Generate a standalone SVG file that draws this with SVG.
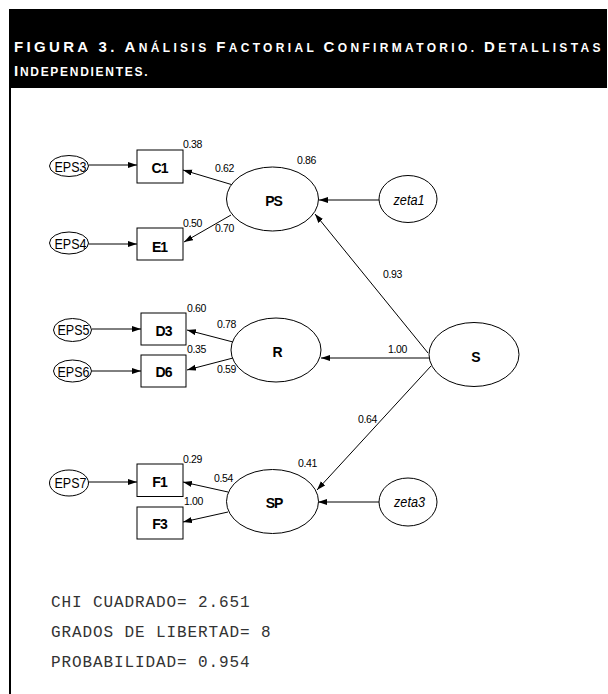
<svg xmlns="http://www.w3.org/2000/svg" width="608" height="694" viewBox="0 0 608 694">
<style>
.hd{font-family:"Liberation Sans",Arial,sans-serif;font-weight:bold;fill:#fff;letter-spacing:2.5px}
.big{font-size:15px}
.sm{font-size:12px}
.box{fill:#fff;stroke:#000;stroke-width:1}
.ell{fill:#fff;stroke:#000;stroke-width:1}
.lbl{font-family:"Liberation Sans",Arial,sans-serif;font-weight:bold;font-size:14px;letter-spacing:-1px;text-anchor:middle;fill:#000}
.eps{font-family:"Liberation Sans",Arial,sans-serif;font-size:15px;text-anchor:middle;fill:#000}
.zeta{font-family:"Liberation Sans",Arial,sans-serif;font-style:italic;font-size:14px;text-anchor:middle;fill:#000}
.num{font-family:"Liberation Sans",Arial,sans-serif;font-size:10.5px;letter-spacing:-0.4px;fill:#000}
.mono{font-family:"Liberation Mono","Courier New",monospace;font-size:16px;letter-spacing:0.9px;fill:#333}
.edge{stroke:#000;stroke-width:1;fill:none;marker-end:url(#ah)}
</style>
<defs>
<marker id="ah" markerUnits="userSpaceOnUse" markerWidth="10" markerHeight="7" refX="9" refY="3" orient="auto">
<path d="M0,0 L9,3 L0,6 z" fill="#000"/>
</marker>
</defs>
<rect x="0" y="0" width="608" height="694" fill="#fff"/>
<g id="header">
<rect x="9" y="9" width="598" height="79" fill="#000"/>
<rect x="9" y="88" width="2" height="606" fill="#000"/>
<text class="hd" x="14" y="52" textLength="589" lengthAdjust="spacing"><tspan class="big">FIGURA 3. A</tspan><tspan class="sm">NÁLISIS </tspan><tspan class="big">F</tspan><tspan class="sm">ACTORIAL </tspan><tspan class="big">C</tspan><tspan class="sm">ONFIRMATORIO. </tspan><tspan class="big">D</tspan><tspan class="sm">ETALLISTAS</tspan></text>
<text class="hd" x="14" y="76" textLength="136" lengthAdjust="spacing"><tspan class="big">I</tspan><tspan class="sm">NDEPENDIENTES.</tspan></text>
</g>
<g id="connectors">
<line class="edge" x1="88.5" y1="165" x2="137" y2="165"/>
<line class="edge" x1="88.5" y1="244" x2="137" y2="244"/>
<line class="edge" x1="233" y1="185" x2="183" y2="170"/>
<line class="edge" x1="231" y1="215" x2="184" y2="242"/>
<line class="edge" x1="379" y1="200" x2="319" y2="200"/>
<line class="edge" x1="428" y1="353" x2="315" y2="214"/>
<line class="edge" x1="429" y1="358" x2="321" y2="358"/>
<line class="edge" x1="431" y1="366" x2="317" y2="490"/>
<line class="edge" x1="233" y1="342" x2="187" y2="330"/>
<line class="edge" x1="233" y1="358" x2="187" y2="370"/>
<line class="edge" x1="92" y1="329" x2="141" y2="329"/>
<line class="edge" x1="92" y1="371" x2="141" y2="371"/>
<line class="edge" x1="88.5" y1="482" x2="137" y2="482"/>
<line class="edge" x1="228" y1="492" x2="183" y2="482"/>
<line class="edge" x1="228" y1="512" x2="183" y2="522"/>
<line class="edge" x1="379" y1="502" x2="318" y2="502"/>
</g>
<g id="EPS3"><ellipse class="ell" cx="69" cy="166" rx="19.5" ry="10.5"/><text class="eps" x="70.5" y="172" textLength="32" lengthAdjust="spacingAndGlyphs">EPS3</text></g>
<g id="EPS4"><ellipse class="ell" cx="69" cy="243" rx="19.5" ry="11"/><text class="eps" x="70.5" y="249" textLength="32" lengthAdjust="spacingAndGlyphs">EPS4</text></g>
<g id="EPS5"><ellipse class="ell" cx="72.5" cy="330" rx="19" ry="11.5"/><text class="eps" x="73.5" y="335" textLength="32" lengthAdjust="spacingAndGlyphs">EPS5</text></g>
<g id="EPS6"><ellipse class="ell" cx="72.5" cy="371" rx="19" ry="11"/><text class="eps" x="73.5" y="376.5" textLength="32" lengthAdjust="spacingAndGlyphs">EPS6</text></g>
<g id="EPS7"><ellipse class="ell" cx="69" cy="483" rx="19.5" ry="13"/><text class="eps" x="70.5" y="488" textLength="32" lengthAdjust="spacingAndGlyphs">EPS7</text></g>
<g id="C1"><rect class="box" x="137" y="150" width="46" height="33"/><text class="lbl" x="159.5" y="173">C1</text></g>
<g id="E1"><rect class="box" x="137" y="228" width="46" height="32"/><text class="lbl" x="159.5" y="251.5">E1</text></g>
<g id="D3"><rect class="box" x="141" y="313" width="45" height="32"/><text class="lbl" x="163.5" y="335.5">D3</text></g>
<g id="D6"><rect class="box" x="141" y="355" width="45" height="32"/><text class="lbl" x="163.5" y="377">D6</text></g>
<g id="F1"><rect class="box" x="137" y="464" width="46" height="32.5"/><text class="lbl" x="159.5" y="487">F1</text></g>
<g id="F3"><rect class="box" x="137" y="507" width="46" height="32"/><text class="lbl" x="159.5" y="529">F3</text></g>
<g id="PS"><ellipse class="ell" cx="272.5" cy="199" rx="46" ry="32"/><text class="lbl" x="273.5" y="205.5">PS</text></g>
<g id="R"><ellipse class="ell" cx="276" cy="350" rx="45" ry="32"/><text class="lbl" x="277" y="356.5">R</text></g>
<g id="SP"><ellipse class="ell" cx="272.5" cy="501.5" rx="46" ry="32"/><text class="lbl" x="274" y="508">SP</text></g>
<g id="S"><ellipse class="ell" cx="474" cy="354.5" rx="45" ry="32"/><text class="lbl" x="475.5" y="361.5">S</text></g>
<g id="zeta1"><ellipse class="ell" cx="408" cy="199" rx="29" ry="23.5"/><text class="zeta" x="409" y="204.5" textLength="31" lengthAdjust="spacingAndGlyphs">zeta1</text></g>
<g id="zeta3"><ellipse class="ell" cx="408" cy="502" rx="29" ry="24"/><text class="zeta" x="409.5" y="506.5" textLength="31" lengthAdjust="spacingAndGlyphs">zeta3</text></g>
<g id="labels">
<text class="num" x="183" y="148">0.38</text>
<text class="num" x="215" y="172">0.62</text>
<text class="num" x="183" y="227">0.50</text>
<text class="num" x="215" y="232">0.70</text>
<text class="num" x="297" y="164">0.86</text>
<text class="num" x="383" y="278">0.93</text>
<text class="num" x="187" y="312">0.60</text>
<text class="num" x="217" y="328">0.78</text>
<text class="num" x="187" y="353">0.35</text>
<text class="num" x="217" y="373">0.59</text>
<text class="num" x="388" y="353">1.00</text>
<text class="num" x="358" y="423">0.64</text>
<text class="num" x="183" y="463">0.29</text>
<text class="num" x="214" y="482">0.54</text>
<text class="num" x="184" y="505">1.00</text>
<text class="num" x="298" y="467">0.41</text>
</g>
<g id="stats">
<text class="mono" x="51" y="607">CHI CUADRADO= 2.651</text>
<text class="mono" x="51" y="637">GRADOS DE LIBERTAD= 8</text>
<text class="mono" x="51" y="667">PROBABILIDAD= 0.954</text>
</g>
</svg>
